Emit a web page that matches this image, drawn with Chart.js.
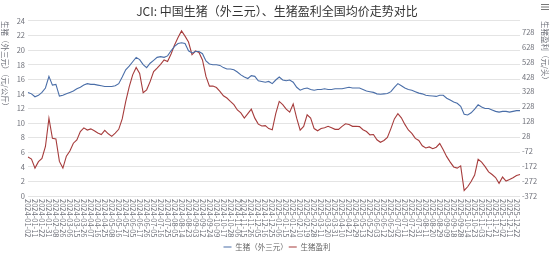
<!DOCTYPE html>
<html>
<head>
<meta charset="utf-8">
<script src="https://cdn.jsdelivr.net/npm/chart.js@4/dist/chart.umd.min.js"></script>
<style>
  html, body { margin: 0; padding: 0; background: #fff; }
  #wrap { width: 554px; height: 254px; }
</style>
</head>
<body>
<div id="wrap"><canvas id="c"></canvas></div>
<script>
// 日期（每隔一个显示为刻度）
const dates = [
  '2024-01-02','2024-01-05','2024-01-11','2024-01-16','2024-01-22','2024-01-25','2024-01-31','2024-02-05',
  '2024-02-08','2024-02-21','2024-02-26','2024-02-29','2024-03-06','2024-03-11','2024-03-15','2024-03-20',
  '2024-03-26','2024-03-29','2024-04-07','2024-04-11','2024-04-16','2024-04-19','2024-04-25','2024-05-06',
  '2024-05-08','2024-05-13','2024-05-16','2024-05-21','2024-05-27','2024-05-30','2024-06-05','2024-06-12',
  '2024-06-17','2024-06-20','2024-06-26','2024-07-01','2024-07-05','2024-07-10','2024-07-16','2024-07-19',
  '2024-07-25','2024-07-30','2024-08-05','2024-08-08','2024-08-14','2024-08-19','2024-08-23','2024-08-28',
  '2024-09-03','2024-09-06','2024-09-12','2024-09-19','2024-09-24','2024-09-27','2024-10-09','2024-10-14',
  '2024-10-17','2024-10-22','2024-10-28','2024-10-31','2024-11-06','2024-11-11','2024-11-15','2024-11-20',
  '2024-11-26','2024-11-29','2024-12-05','2024-12-10','2024-12-16','2024-12-19','2024-12-25','2024-12-30',
  '2025-01-06','2025-01-09','2025-01-15','2025-01-20','2025-01-24','2025-02-05','2025-02-10','2025-02-13',
  '2025-02-19','2025-02-24','2025-02-28','2025-03-05','2025-03-11','2025-03-14','2025-03-20','2025-03-25',
  '2025-03-31','2025-04-03','2025-04-10','2025-04-15','2025-04-21','2025-04-24','2025-04-29','2025-05-08',
  '2025-05-13','2025-05-16','2025-05-22','2025-05-27','2025-06-03','2025-06-06','2025-06-12','2025-06-17',
  '2025-06-23','2025-06-26','2025-07-02','2025-07-07','2025-07-11','2025-07-16','2025-07-22','2025-07-25',
  '2025-07-31','2025-08-05','2025-08-11','2025-08-14','2025-08-20','2025-08-25','2025-08-29','2025-09-03',
  '2025-09-09','2025-09-12','2025-09-18','2025-09-23','2025-09-28','2025-10-09','2025-10-14','2025-10-17',
  '2025-10-23','2025-10-28','2025-11-03','2025-11-06','2025-11-12','2025-11-17','2025-11-21','2025-11-26',
  '2025-12-02','2025-12-05','2025-12-11','2025-12-16','2025-12-22','2025-12-25'
];

// 生猪（外三元）元/公斤 —— 左轴
const hogPrice = [
  14.2, 14.0, 13.6, 13.8, 14.2, 14.8, 16.4, 15.2, 15.3, 13.7, 13.8, 14.0, 14.2, 14.4, 14.7, 14.9,
  15.2, 15.4, 15.3, 15.3, 15.2, 15.1, 15.0, 15.0, 15.0, 15.1, 15.4, 16.3, 17.3, 17.8, 18.4, 19.0,
  18.7, 18.0, 17.6, 18.2, 18.6, 19.0, 19.1, 19.0, 19.2, 19.9, 20.5, 20.9, 21.0, 20.9, 19.9, 19.6,
  19.8, 19.8, 19.5, 18.5, 18.1, 18.0, 18.0, 17.9, 17.6, 17.4, 17.4, 17.3, 17.0, 16.6, 16.3, 16.1,
  16.5, 16.4, 15.8, 15.7, 15.6, 15.7, 15.4, 15.9, 16.3, 15.9, 15.8, 15.9, 15.6, 14.9, 14.5, 14.7,
  14.8, 14.6, 14.5, 14.6, 14.6, 14.7, 14.6, 14.6, 14.7, 14.7, 14.7, 14.8, 14.9, 14.8, 14.8, 14.8,
  14.6, 14.4, 14.3, 14.2, 14.0, 13.95, 14.0, 14.05, 14.3, 14.9, 15.4, 15.1, 14.8, 14.6, 14.5, 14.3,
  14.1, 14.0, 13.8, 13.75, 13.7, 13.65, 13.8, 13.8, 13.4, 13.15, 12.9, 12.7, 12.3, 11.2, 11.1, 11.4,
  11.9, 12.5, 12.2, 12.0, 12.0, 11.8, 11.6, 11.5, 11.6, 11.6, 11.5, 11.6, 11.7, 11.7
];

// 生猪盈利 元/头 —— 右轴
const hogProfit = [
  -110, -125, -185, -142, -120, -40, 150, 15, 10, -140, -185, -105, -70, -18, 4, 60,
  85, 70, 78, 65, 50, 40, 68, 45, 28, 50, 75, 145, 260, 360, 440, 490,
  450, 320, 340, 395, 462, 485, 510, 540, 530, 580, 640, 690, 735, 700, 660, 575,
  600, 590, 540, 430, 365, 365, 355, 330, 300, 285, 262, 240, 205, 185, 150, 180,
  210, 150, 110, 97, 100, 80, 72, 180, 262, 240, 210, 190, 245, 150, 70, 95,
  172, 150, 80, 65, 80, 85, 95, 85, 75, 75, 95, 112, 108, 95, 96, 93,
  72, 60, 38, 40, 5, -12, 0, 20, 80, 145, 180, 152, 108, 71, 48, 14,
  0, -35, -50, -43, -55, -45, -20, -62, -108, -145, -177, -185, -170, -335, -310, -275,
  -232, -126, -145, -175, -210, -228, -248, -287, -245, -272, -262, -250, -235, -228
];

// 右轴刻度
const profitTicks = [-372, -272, -172, -72, 28, 128, 228, 328, 428, 528, 628, 728];

const FONT = '"Noto Sans CJK SC", "Noto Sans", sans-serif';
const GRAY = '#6e7079';

// 轴名、竖排日期、菜单图标
const decor = {
    id: 'decor',
    afterDraw(chart) {
        const ctx = chart.ctx;
        const xs = chart.scales.x;
        const area = chart.chartArea;
        ctx.save();
        ctx.fillStyle = GRAY;
        ctx.font = `7.5px ${FONT}`;
        ctx.textAlign = 'left';
        ctx.textBaseline = 'middle';
        dates.forEach((d, i) => {
            if (i % 2) return;
            const px = xs.getPixelForValue(i);
            ctx.save();
            ctx.translate(px, area.bottom + 3);
            ctx.rotate(Math.PI / 2);
            ctx.fillText(d, 0, 0);
            ctx.restore();
        });

        [[4.5, '生猪（外三元）（元/公斤）'], [545, '生猪盈利（元/头）']].forEach(([x, t]) => {
            ctx.save();
            ctx.translate(x, 21);
            ctx.rotate(Math.PI / 2);
            ctx.fillText(t, 0, 0);
            ctx.restore();
        });

        ctx.strokeStyle = '#777';
        ctx.lineWidth = 1;
        [4.5, 7, 9.5].forEach(y => {
            ctx.beginPath();
            ctx.moveTo(541, y);
            ctx.lineTo(549, y);
            ctx.stroke();
        });
        ctx.restore();
    }
};

new Chart(document.getElementById('c'), {
    type: 'line',
    data: {
        labels: dates,
        datasets: [
            {
                label: '生猪（外三元）',
                data: hogPrice,
                yAxisID: 'y',
                borderColor: '#4a6ea8',
                backgroundColor: '#4a6ea8',
                borderWidth: 1.1,
                pointRadius: 0,
                tension: 0
            },
            {
                label: '生猪盈利',
                data: hogProfit,
                yAxisID: 'y1',
                borderColor: '#a63c3c',
                backgroundColor: '#a63c3c',
                borderWidth: 1.1,
                pointRadius: 0,
                tension: 0
            }
        ]
    },
    options: {
        responsive: true,
        maintainAspectRatio: false,
        animation: false,
        layout: {padding: {top: 0, left: 0, right: 0, bottom: -6.75}},
        plugins: {
            title: {
                display: true,
                text: 'JCI: 中国生猪（外三元）、生猪盈利全国均价走势对比',
                color: '#333',
                font: {family: FONT, size: 12, weight: 'normal'},
                padding: {top: 4.5, bottom: 2}
            },
            legend: {
                position: 'bottom',
                labels: {
                    color: '#666',
                    font: {family: FONT, size: 7.5},
                    usePointStyle: true,
                    pointStyle: 'line',
                    pointStyleWidth: 8,
                    padding: 1
                }
            },
            tooltip: {enabled: false}
        },
        scales: {
            x: {
                type: 'category',
                offset: false,
                grid: {display: false},
                border: {display: false},
                ticks: {display: false, autoSkip: false},
                afterFit: s => { s.height = 46.25; }
            },
            y: {
                position: 'left',
                min: 0,
                max: 24,
                ticks: {stepSize: 1, color: GRAY, font: {family: FONT, size: 7.5}, padding: 3},
                grid: {color: '#e4e4e4', drawTicks: false},
                border: {display: false},
                afterFit: s => { s.width = 28; }
            },
            y1: {
                position: 'right',
                min: -372,
                max: 802,
                afterBuildTicks: s => { s.ticks = profitTicks.map(v => ({value: v})); },
                ticks: {color: GRAY, font: {family: FONT, size: 7.5}, padding: 2},
                grid: {display: false, drawTicks: false},
                border: {display: false},
                afterFit: s => { s.width = 34; }
            }
        }
    },
    plugins: [decor]
});
</script>
</body>
</html>
